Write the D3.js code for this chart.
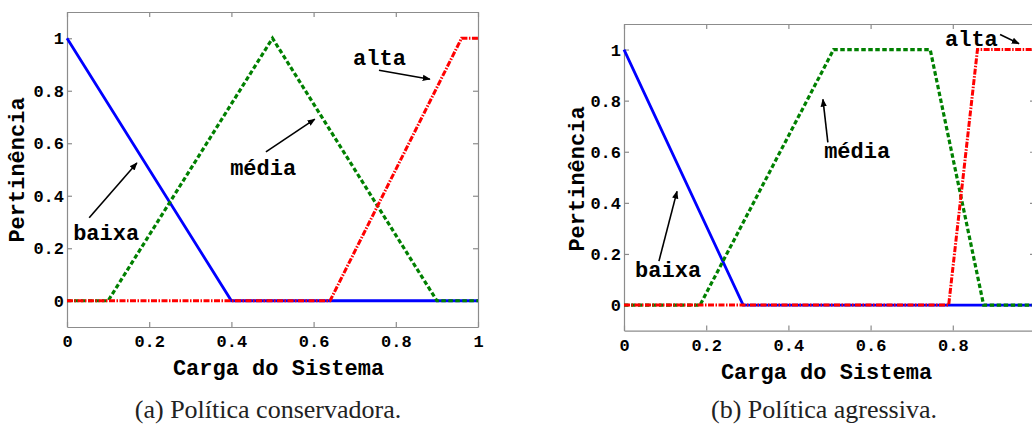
<!DOCTYPE html>
<html>
<head>
<meta charset="utf-8">
<script src="https://cdn.jsdelivr.net/npm/d3@7"></script>
<style>
  body { margin: 0; background: #fff; }
  svg { display: block; }
</style>
</head>
<body>
<div id="chart"></div>
<script>
// tick values shared by both panels
var xTicks = [0, 0.2, 0.4, 0.6, 0.8, 1]
var yTicks = [0, 0.2, 0.4, 0.6, 0.8, 1]
var tickLabels = ["0", "0.2", "0.4", "0.6", "0.8", "1"]

// (a) conservative policy - membership functions as [load, membership]
var consBaixa = [[0, 1], [0.4, 0], [1, 0]]
var consMedia = [[0, 0], [0.1, 0], [0.5, 1], [0.9, 0], [1, 0]]
var consAlta  = [[0, 0], [0.64, 0], [0.96, 1], [1, 1]]

// (b) aggressive policy
var agrBaixa = [[0, 1], [0.29, 0], [1, 0]]
var agrMedia = [[0, 0], [0.185, 0], [0.51, 1], [0.745, 1], [0.875, 0], [1, 0]]
var agrAlta  = [[0, 0], [0.79, 0], [0.86, 1], [1, 1]]

// annotation labels: text anchor point and arrow [from, to], in data units
var consNotes = [
  { text: "alta",  at: [0.696, 0.897], arrow: [[0.759, 0.878], [0.883, 0.844]] },
  { text: "média", at: [0.397, 0.479], arrow: [[0.484, 0.567], [0.603, 0.692]] },
  { text: "baixa", at: [0.015, 0.232], arrow: [[0.054, 0.316], [0.170, 0.525]] }
]
var agrNotes = [
  { text: "alta",  at: [0.781, 1.012], arrow: [[0.915, 1.059], [0.961, 1.023]] },
  { text: "média", at: [0.487, 0.574], arrow: [[0.496, 0.637], [0.484, 0.805]] },
  { text: "baixa", at: [0.027, 0.109], arrow: [[0.085, 0.172], [0.129, 0.445]] }
]

var mono = '"Liberation Mono", "Courier New", monospace'
var axisGray = "#8c8c8c"

var svg = d3.select("#chart")
  .append("svg")
  .attr("width", 1032)
  .attr("height", 424)

// arrow head
svg.append("defs").append("marker")
  .attr("id", "head")
  .attr("viewBox", "0 0 10 10")
  .attr("refX", 9)
  .attr("refY", 5)
  .attr("markerWidth", 8)
  .attr("markerHeight", 8)
  .attr("markerUnits", "userSpaceOnUse")
  .attr("orient", "auto")
  .append("path")
  .attr("d", "M0,1 L10,5 L0,9 Z")
  .attr("fill", "#000")

function panel(opts) {
  var x = d3.scaleLinear().domain([0, 1]).range([0, opts.w])
  var y = d3.scaleLinear().domain([-0.1, 1.1]).range([opts.h, 0])

  var g = svg.append("g")
    .attr("transform", "translate(" + opts.left + "," + opts.top + ")")

  // matlab style box with inward ticks on all four sides
  // (the right panel is cropped, so its last x label falls outside the picture)
  var fmt = function(d, i) { return opts.hideLast && i == tickLabels.length - 1 ? "" : tickLabels[i] }
  var bottom = g.append("g").attr("transform", "translate(0," + opts.h + ")")
    .call(d3.axisBottom(x).tickValues(xTicks).tickFormat(fmt).tickSizeInner(-5).tickSizeOuter(0).tickPadding(8))
  var top = g.append("g")
    .call(d3.axisTop(x).tickValues(xTicks).tickFormat("").tickSizeInner(-5).tickSizeOuter(0))
  var left = g.append("g")
    .call(d3.axisLeft(y).tickValues(yTicks).tickFormat(function(d, i) { return tickLabels[i] })
      .tickSizeInner(-5).tickSizeOuter(0).tickPadding(3))
  var right = g.append("g").attr("transform", "translate(" + opts.w + ",0)")
    .call(d3.axisRight(y).tickValues(yTicks).tickFormat("").tickSizeInner(-5).tickSizeOuter(0))

  ;[bottom, top, left, right].forEach(function(a) {
    a.selectAll("path, line").attr("stroke", axisGray).attr("stroke-width", 1.2)
  })
  bottom.selectAll("text").attr("font-size", 17).attr("font-weight", "bold").attr("fill", "#000").attr("font-family", mono)
  left.selectAll("text").attr("font-size", 17).attr("font-weight", "bold").attr("fill", "#000").attr("font-family", mono)

  var line = d3.line()
    .x(function(d) { return x(d[0]) })
    .y(function(d) { return y(d[1]) })

  // blue first, then green dashes, red dash-dot on top
  g.append("path").datum(opts.baixa).attr("d", line)
    .attr("fill", "none").attr("stroke", "#0000ff").attr("stroke-width", 2.8)
  g.append("path").datum(opts.media).attr("d", line)
    .attr("fill", "none").attr("stroke", "#008000").attr("stroke-width", 3.2)
    .attr("stroke-dasharray", "4.5,2.5")
  g.append("path").datum(opts.alta).attr("d", line)
    .attr("fill", "none").attr("stroke", "#ff0000").attr("stroke-width", 3)
    .attr("stroke-dasharray", "6,1.5,1.5,1.5")

  // labels with arrows
  opts.notes.forEach(function(n) {
    g.append("text")
      .attr("x", x(n.at[0]))
      .attr("y", y(n.at[1]))
      .attr("font-family", mono)
      .attr("font-weight", "bold")
      .attr("font-size", 22)
      .text(n.text)
    g.append("line")
      .attr("x1", x(n.arrow[0][0])).attr("y1", y(n.arrow[0][1]))
      .attr("x2", x(n.arrow[1][0])).attr("y2", y(n.arrow[1][1]))
      .attr("stroke", "#000").attr("stroke-width", 1.6)
      .attr("marker-end", "url(#head)")
  })

  // axis titles
  g.append("text")
    .attr("x", opts.w / 2 + opts.xlabDx)
    .attr("y", opts.h + 48)
    .attr("text-anchor", "middle")
    .attr("font-family", mono).attr("font-weight", "bold").attr("font-size", 22)
    .text("Carga do Sistema")
  g.append("text")
    .attr("transform", "translate(" + opts.ylabX + "," + opts.ylabY + ") rotate(-90)")
    .attr("text-anchor", "middle")
    .attr("font-family", mono).attr("font-weight", "bold").attr("font-size", 22)
    .text("Pertinência")

  // caption under the panel
  svg.append("text")
    .attr("x", opts.capX)
    .attr("y", 418)
    .attr("text-anchor", "middle")
    .attr("font-family", '"Liberation Serif", "Times New Roman", serif')
    .attr("font-size", 26)
    .attr("fill", "#222")
    .text(opts.caption)
}

panel({
  left: 67, top: 12, w: 411, h: 315,
  baixa: consBaixa, media: consMedia, alta: consAlta, notes: consNotes,
  xlabDx: 6, ylabX: -43, ylabY: 158,
  hideLast: false,
  capX: 268, caption: "(a) Política conservadora."
})

panel({
  left: 624, top: 24, w: 411, h: 306.6,
  baixa: agrBaixa, media: agrMedia, alta: agrAlta, notes: agrNotes,
  xlabDx: -3, ylabX: -40, ylabY: 155,
  hideLast: true,
  capX: 824, caption: "(b) Política agressiva."
})
</script>
</body>
</html>
